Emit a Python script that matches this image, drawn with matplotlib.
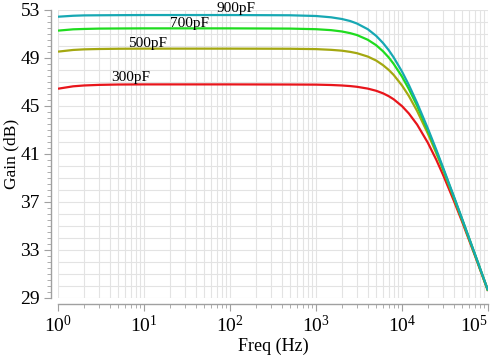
import matplotlib

matplotlib.use("Agg")

import matplotlib.pyplot as plt
import numpy as np
from matplotlib.ticker import FixedLocator, LogLocator, MultipleLocator, NullFormatter

plt.rcParams["font.family"] = ["Liberation Serif", "DejaVu Serif"]
plt.rcParams["mathtext.fontset"] = "custom"
plt.rcParams["mathtext.rm"] = "Liberation Serif"
plt.rcParams["mathtext.it"] = "Liberation Serif:italic"

# frequency points (Hz)
freq = [1, 1.5, 2, 3, 5, 10, 100, 500, 1000, 1500, 2000, 2500, 3000, 4000, 5000, 6000,
        7000, 8000, 1e4, 1.2e4, 1.5e4, 2e4, 2.5e4, 3e4, 4e4, 5e4, 7e4, 1e5]

gain_900pf = [52.44, 52.52, 52.55, 52.56, 52.57, 52.58, 52.58, 52.56, 52.50, 52.39, 52.25,
              52.08, 51.87, 51.40, 50.85, 50.26, 49.66, 49.05, 47.87, 46.76, 45.25, 43.12,
              41.37, 39.88, 37.49, 35.60, 32.72, 29.64]
gain_700pf = [51.28, 51.39, 51.42, 51.45, 51.46, 51.47, 51.47, 51.45, 51.40, 51.32, 51.21,
              51.07, 50.91, 50.52, 50.07, 49.57, 49.05, 48.51, 47.45, 46.42, 45.01, 42.96,
              41.25, 39.79, 37.42, 35.55, 32.68, 29.61]
gain_500pf = [49.53, 49.67, 49.72, 49.75, 49.77, 49.78, 49.78, 49.77, 49.74, 49.68, 49.61,
              49.51, 49.40, 49.12, 48.79, 48.41, 48.01, 47.59, 46.71, 45.84, 44.58, 42.70,
              41.08, 39.68, 37.37, 35.52, 32.68, 29.62]
gain_300pf = [46.44, 46.64, 46.71, 46.76, 46.79, 46.80, 46.80, 46.79, 46.78, 46.75, 46.71,
              46.66, 46.60, 46.45, 46.27, 46.06, 45.82, 45.56, 44.99, 44.38, 43.45, 41.93,
              40.53, 39.27, 37.12, 35.36, 32.59, 29.58]

series = [
    ("300pF", gain_300pf, "#e8151b"),
    ("500pF", gain_500pf, "#a4a811"),
    ("700pF", gain_700pf, "#1fdc1f"),
    ("900pF", gain_900pf, "#17a8b3"),
]

# curve labels: (text, freq, gain) placed where the reference has them
labels = [("900pF", 117, 53.15), ("700pF", 34, 51.9), ("500pF", 11, 50.2), ("300pF", 7, 47.35)]

x_ticks = [1, 10, 100, 1000, 1e4, 1e5]

fig = plt.figure(figsize=(4.93, 3.6), dpi=100)
ax = fig.add_axes([58 / 493, 1 - 298 / 360, 430 / 493, 288 / 360])

for name, g, color in series:
    ax.plot(freq, g, color=color, linewidth=1.6, solid_capstyle="butt")

for text, f, g in labels:
    ax.text(f, g, text, fontsize=11, ha="center", va="center", clip_on=False)

ax.set_xscale("log")
ax.set_xlim(1, 1e5)
ax.set_ylim(29, 53)

ax.xaxis.set_major_locator(FixedLocator(x_ticks))
ax.xaxis.set_minor_locator(LogLocator(base=10, subs=np.arange(2, 10), numticks=20))
ax.xaxis.set_minor_formatter(NullFormatter())
ax.yaxis.set_major_locator(FixedLocator(range(29, 54, 4)))
ax.yaxis.set_minor_locator(MultipleLocator(0.5))

ax.grid(True, which="both", axis="x", color="#e3e3e3", linewidth=0.8)
for y in range(29, 54):
    ax.axhline(y, color="#e3e3e3", linewidth=0.8, zorder=0)
ax.set_axisbelow(True)

for side in ["top", "right"]:
    ax.spines[side].set_visible(False)
ax.spines["left"].set_position(("outward", 5))
ax.spines["bottom"].set_position(("outward", 4))
for side in ["left", "bottom"]:
    ax.spines[side].set_color("#a0a0a0")
    ax.spines[side].set_linewidth(1.0)

ax.tick_params(which="major", length=5, color="#a0a0a0", labelsize=14, pad=3)
ax.tick_params(which="minor", length=3, color="#a0a0a0")

# last decade label sits a bit left of its tick so it stays inside the image
last = ax.xaxis.get_major_ticks()[-1]
last.label1.set_horizontalalignment("right")

ax.set_xlabel("Freq (Hz)", fontsize=13, labelpad=1)
ax.set_ylabel("Gain (dB)", fontsize=12.5, labelpad=1)

fig.savefig("out.png", dpi=100)
